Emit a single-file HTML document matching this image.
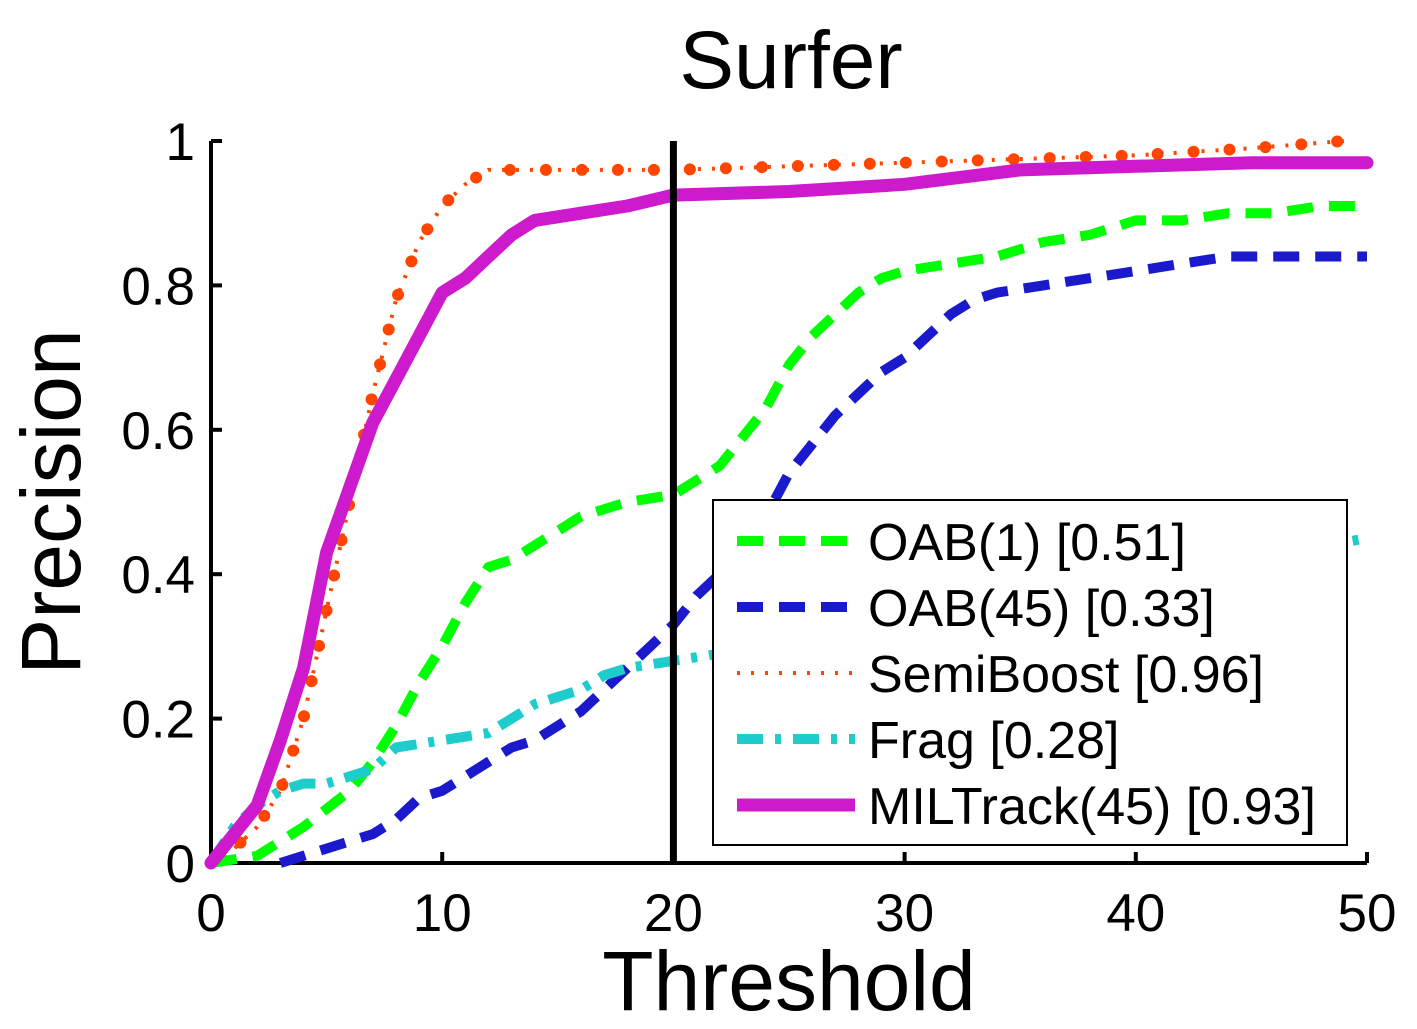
<!DOCTYPE html>
<html><head><meta charset="utf-8"><style>
body{margin:0;background:#fff;}
svg{display:block;font-family:"Liberation Sans",sans-serif;}
</style></head><body>
<svg id="chart" width="1417" height="1029" viewBox="0 0 1417 1029">
<text x="791" y="88" font-size="82" text-anchor="middle">Surfer</text>
<text x="789" y="1010" font-size="84" text-anchor="middle">Threshold</text>
<text transform="translate(80,502) rotate(-90)" font-size="84" text-anchor="middle">Precision</text>
<g id="axes"></g>
<g id="series"></g>
<g id="legend"></g>
</svg>
<script>
const xTicks=[0,10,20,30,40,50];
const yTicks=[0,0.2,0.4,0.6,0.8,1];
const yTickLabels=["0","0.2","0.4","0.6","0.8","1"];
const thresholdLine=20;
const oab1X=[0,2,4,6,7,8,9,10,11,12,13,14,15,16,18,20,22,23,24,25,26,27,28,29,30,32,34,36,38,40,42,44,46,48,50];
const oab1Y=[0,0.01,0.05,0.1,0.14,0.19,0.25,0.3,0.36,0.41,0.42,0.44,0.46,0.48,0.5,0.51,0.55,0.59,0.63,0.69,0.73,0.76,0.79,0.81,0.82,0.83,0.84,0.86,0.87,0.89,0.89,0.9,0.9,0.91,0.91];
const oab45X=[3,4,6,7,8,9,10,11,12,13,14,15,16,17,18,19,20,21,22,23,24,25,26,27,28,29,30,31,32,33,34,36,38,40,42,44,46,48,50];
const oab45Y=[0,0.01,0.03,0.04,0.06,0.09,0.1,0.12,0.14,0.16,0.17,0.19,0.21,0.24,0.27,0.3,0.33,0.37,0.4,0.43,0.48,0.54,0.58,0.62,0.65,0.68,0.7,0.73,0.76,0.78,0.79,0.8,0.81,0.82,0.83,0.84,0.84,0.84,0.84];
const semiX=[0,1,2,3,4,5,6,7,8,9,10,11,12,20,30,40,45,49];
const semiY=[0,0.02,0.05,0.1,0.2,0.35,0.5,0.65,0.78,0.86,0.91,0.94,0.96,0.96,0.97,0.98,0.99,1.0];
const fragX=[0,1,2,3,4,5,6,7,8,10,12,13,14,16,17,18,20,22,25,30,35,40,45,50];
const fragY=[0,0.05,0.08,0.1,0.11,0.11,0.12,0.13,0.16,0.17,0.18,0.2,0.22,0.24,0.26,0.27,0.28,0.29,0.31,0.34,0.37,0.4,0.42,0.45];
const milX=[0,1,2,3,4,5,6,7,8,9,10,11,12,13,14,16,18,20,25,30,35,40,45,50];
const milY=[0,0.04,0.08,0.17,0.27,0.43,0.52,0.61,0.67,0.73,0.79,0.81,0.84,0.87,0.89,0.9,0.91,0.925,0.93,0.94,0.96,0.965,0.97,0.97];
const legendLabels=["OAB(1) [0.51]","OAB(45) [0.33]","SemiBoost [0.96]","Frag [0.28]","MILTrack(45) [0.93]"];

const X0=211,X1=1367,Y0=863,Y1=141;
const sx=v=>X0+(v-0)/(50-0)*(X1-X0);
const sy=v=>Y0-(v-0)/(1-0)*(Y0-Y1);
const NS="http://www.w3.org/2000/svg";
function mk(t,parent,attrs){const e=document.createElementNS(NS,t);for(const k in attrs)e.setAttribute(k,attrs[k]);parent.appendChild(e);return e;}
const axes=document.getElementById('axes'),series=document.getElementById('series'),legend=document.getElementById('legend');

let a=mk('path',axes,{d:`M${X0},${Y1}V${Y0}H${X1}`,fill:'none',stroke:'#000','stroke-width':4});


xTicks.forEach(v=>{
  let t=mk('line',axes,{x1:sx(v),x2:sx(v),y1:Y0,y2:Y0-11,stroke:'#000','stroke-width':4});
  
  
  let l=mk('text',axes,{x:sx(v),y:Y0+68,'font-size':53,'text-anchor':'middle'});
  
  
  l.textContent=v;
});
yTicks.forEach((v,i)=>{
  let t=mk('line',axes,{x1:X0,x2:X0+11,y1:sy(v),y2:sy(v),stroke:'#000','stroke-width':4});
  
  
  let l=mk('text',axes,{x:X0-16,y:sy(v)+19,'font-size':53,'text-anchor':'end'});
  
  
  l.textContent=yTickLabels[i];
});

const styles=[
 {color:'#00ff00',w:10,dash:'26 16',cap:'butt'},
 {color:'#1a1acc',w:10,dash:'26 16',cap:'butt'},
 {color:'#ff4500',w:4,dash:'3 11',cap:'butt'},
 {color:'#1fcccc',w:10,dash:'26 12 6 12',cap:'butt'},
 {color:'#cc1acc',w:13,dash:'',cap:'round'}
];
const data=[[oab1X,oab1Y],[oab45X,oab45Y],[semiX,semiY],[fragX,fragY],[milX,milY]];
const names=['oab1-line','oab45-line','semiboost-line','frag-line','miltrack-line'];
data.forEach((d,i)=>{
  const s=styles[i];
  const pts=d[0].map((x,j)=>`${sx(x).toFixed(1)},${sy(d[1][j]).toFixed(1)}`).join(' ');
  let p=mk('polyline',series,{points:pts,fill:'none',stroke:s.color,'stroke-width':s.w,'stroke-linejoin':'round','stroke-linecap':s.cap});
  if(s.dash)p.setAttribute('stroke-dasharray',s.dash);
  
  
  if(i===2){
    let p2=mk('polyline',series,{points:pts,fill:'none',stroke:s.color,'stroke-width':12,'stroke-linecap':'round','stroke-dasharray':'0 36'});
    
    
  }
});
let vl=mk('line',series,{x1:sx(thresholdLine),x2:sx(thresholdLine),y1:Y1,y2:Y0,stroke:'#000','stroke-width':7});



let box=mk('rect',legend,{x:713,y:500,width:634,height:345,fill:'#fff',stroke:'#000','stroke-width':2});


legendLabels.forEach((lab,i)=>{
  const y=541+i*66, s=styles[i];
  let ln=mk('line',legend,{x1:737,x2:855,y1:y,y2:y,stroke:s.color,'stroke-width':s.w,'stroke-linecap':'butt'});
  if(s.dash)ln.setAttribute('stroke-dasharray',s.dash);
  
  
  let t=mk('text',legend,{x:868,y:y+19,'font-size':52});
  
  
  t.textContent=lab;
});
</script>
</body></html>
